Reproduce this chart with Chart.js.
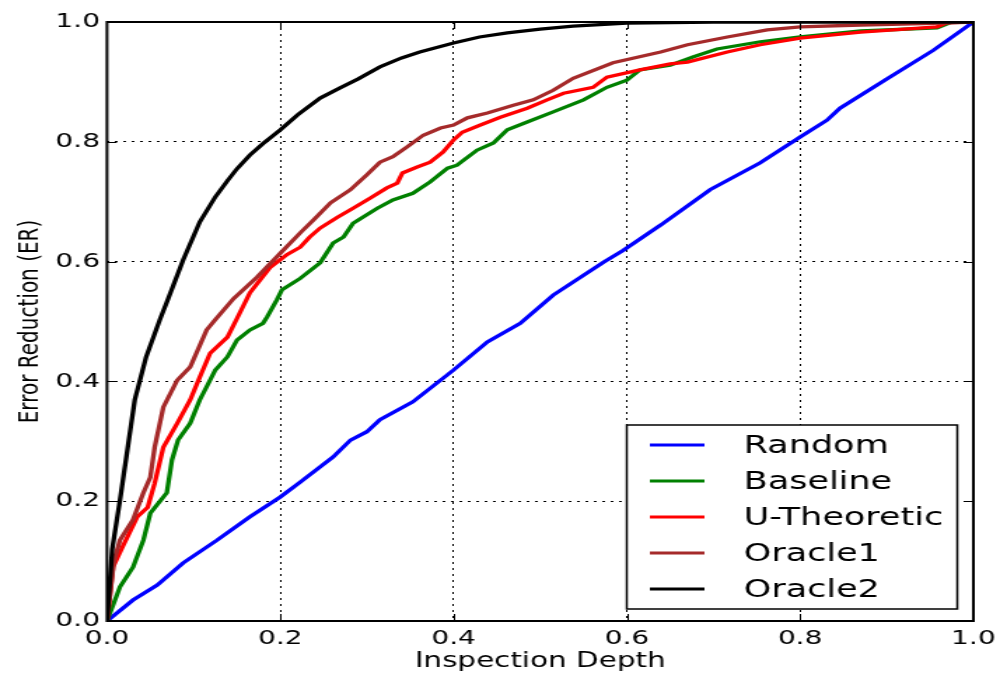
<!DOCTYPE html>
<html><head><meta charset="utf-8">
<script src="https://cdn.jsdelivr.net/npm/chart.js@4/dist/chart.umd.min.js"></script>
<style>
html,body{margin:0;padding:0;background:#fff;overflow:hidden;width:1000px;height:673px}
#wrap{width:714px;height:673px;transform:scaleX(1.40056);transform-origin:0 0}
canvas{display:block}
</style></head><body>
<div id="wrap"><canvas id="c" width="714" height="673"></canvas></div>
<script>
// ---- data ----
const seriesNames = ['Random', 'Baseline', 'U-Theoretic', 'Oracle1', 'Oracle2'];
const seriesColors = ['#0000ff', '#008000', '#ff0000', '#a52a2a', '#000000'];
const tickValues = [0, 0.2, 0.4, 0.6, 0.8, 1.0];

const randomX = [0, 0.030, 0.058, 0.088, 0.127, 0.165, 0.200, 0.223, 0.261, 0.281, 0.300, 0.315, 0.353, 0.400, 0.439, 0.477, 0.515, 0.573, 0.596, 0.639, 0.696, 0.754, 0.800, 0.831, 0.846, 0.900, 0.954, 1.0];
const randomY = [0, 0.035, 0.060, 0.097, 0.135, 0.174, 0.207, 0.232, 0.274, 0.302, 0.316, 0.336, 0.366, 0.419, 0.466, 0.497, 0.544, 0.599, 0.619, 0.661, 0.720, 0.765, 0.808, 0.836, 0.856, 0.905, 0.953, 1.0];

const baselineX = [0, 0.015, 0.030, 0.042, 0.050, 0.069, 0.075, 0.082, 0.096, 0.107, 0.115, 0.125, 0.139, 0.150, 0.165, 0.180, 0.185, 0.196, 0.202, 0.223, 0.246, 0.261, 0.273, 0.284, 0.312, 0.330, 0.353, 0.373, 0.393, 0.404, 0.427, 0.446, 0.462, 0.485, 0.515, 0.550, 0.577, 0.600, 0.615, 0.650, 0.677, 0.704, 0.754, 0.800, 0.870, 0.958, 0.975, 1.0];
const baselineY = [0, 0.057, 0.090, 0.135, 0.180, 0.214, 0.269, 0.302, 0.330, 0.369, 0.391, 0.419, 0.441, 0.469, 0.486, 0.497, 0.508, 0.536, 0.553, 0.572, 0.598, 0.631, 0.641, 0.664, 0.689, 0.703, 0.714, 0.733, 0.756, 0.761, 0.786, 0.798, 0.820, 0.833, 0.850, 0.870, 0.891, 0.903, 0.920, 0.928, 0.942, 0.955, 0.967, 0.975, 0.985, 0.990, 1.0, 1.0];

const uTheoreticX = [0, 0.007, 0.018, 0.035, 0.047, 0.055, 0.065, 0.081, 0.096, 0.107, 0.119, 0.139, 0.150, 0.165, 0.188, 0.208, 0.223, 0.234, 0.246, 0.266, 0.284, 0.304, 0.323, 0.335, 0.341, 0.358, 0.373, 0.388, 0.400, 0.410, 0.431, 0.454, 0.485, 0.508, 0.527, 0.561, 0.577, 0.615, 0.650, 0.670, 0.716, 0.754, 0.800, 0.870, 0.958, 0.970, 1.0];
const uTheoreticY = [0, 0.090, 0.124, 0.174, 0.190, 0.230, 0.290, 0.330, 0.369, 0.407, 0.447, 0.474, 0.505, 0.548, 0.590, 0.612, 0.624, 0.641, 0.656, 0.674, 0.689, 0.706, 0.723, 0.731, 0.748, 0.758, 0.766, 0.783, 0.803, 0.816, 0.828, 0.841, 0.856, 0.870, 0.881, 0.891, 0.908, 0.920, 0.930, 0.933, 0.950, 0.962, 0.973, 0.983, 0.992, 0.999, 1.0];

const oracle1X = [0, 0.008, 0.015, 0.030, 0.042, 0.050, 0.055, 0.065, 0.081, 0.096, 0.115, 0.125, 0.146, 0.173, 0.200, 0.223, 0.238, 0.258, 0.281, 0.300, 0.315, 0.330, 0.346, 0.365, 0.385, 0.400, 0.416, 0.439, 0.469, 0.492, 0.515, 0.538, 0.584, 0.639, 0.670, 0.716, 0.762, 0.800, 0.870, 0.965, 1.0];
const oracle1Y = [0, 0.100, 0.135, 0.169, 0.214, 0.240, 0.290, 0.357, 0.402, 0.424, 0.486, 0.503, 0.538, 0.574, 0.614, 0.648, 0.669, 0.698, 0.720, 0.745, 0.766, 0.775, 0.791, 0.811, 0.823, 0.828, 0.840, 0.848, 0.861, 0.870, 0.886, 0.906, 0.932, 0.950, 0.962, 0.975, 0.987, 0.992, 0.995, 0.998, 1.0];

const oracle2X = [0, 0.006, 0.015, 0.032, 0.045, 0.061, 0.070, 0.088, 0.107, 0.125, 0.139, 0.150, 0.165, 0.180, 0.200, 0.220, 0.246, 0.269, 0.290, 0.315, 0.340, 0.361, 0.400, 0.430, 0.462, 0.500, 0.538, 0.600, 0.700, 0.800, 1.0];
const oracle2Y = [0, 0.120, 0.202, 0.369, 0.440, 0.503, 0.536, 0.603, 0.666, 0.708, 0.735, 0.755, 0.778, 0.797, 0.820, 0.845, 0.873, 0.890, 0.905, 0.925, 0.940, 0.950, 0.965, 0.975, 0.982, 0.988, 0.993, 0.998, 1.0, 1.0, 1.0];

const allX = [randomX, baselineX, uTheoreticX, oracle1X, oracle2X];
const allY = [randomY, baselineY, uTheoreticY, oracle1Y, oracle2Y];

const xTitle = 'Inspection Depth';
const yTitle = 'Error Reduction (ER)';

Chart.defaults.font.family = "'DejaVu Sans', 'Bitstream Vera Sans', sans-serif";
Chart.defaults.color = '#000';

const datasets = seriesNames.map((name, i) => ({
  label: name,
  data: allX[i].map((x, k) => ({x: x, y: allY[i][k]})),
  borderColor: seriesColors[i],
  backgroundColor: seriesColors[i],
  borderWidth: 3.3,
  pointRadius: 0,
  tension: 0,
  fill: false,
  order: seriesNames.length - i
}));

const framePlugin = {
  id: 'frame',
  afterDatasetsDraw(chart) {
    const {ctx, chartArea: a, scales} = chart;
    ctx.save();
    ctx.strokeStyle = '#000';
    ctx.lineWidth = 1;
    const tl = 7;
    tickValues.forEach(v => {
      const px = Math.round(scales.x.getPixelForValue(v)) + 0.5;
      ctx.beginPath();
      ctx.moveTo(px, a.bottom); ctx.lineTo(px, a.bottom - tl);
      ctx.moveTo(px, a.top); ctx.lineTo(px, a.top + tl);
      ctx.stroke();
      const py = Math.round(scales.y.getPixelForValue(v)) + 0.5;
      ctx.beginPath();
      ctx.moveTo(a.left, py); ctx.lineTo(a.left + tl, py);
      ctx.moveTo(a.right, py); ctx.lineTo(a.right - tl, py);
      ctx.stroke();
    });
    ctx.lineWidth = 2;
    ctx.strokeRect(a.left, a.top, a.right - a.left, a.bottom - a.top);
    ctx.restore();
  },
  afterDraw(chart) {
    const {ctx, chartArea: a} = chart;
    const w = 236, h = 184;
    const bx = a.right - 11.5 - w, by = a.bottom - 12 - h;
    ctx.save();
    ctx.fillStyle = '#fff';
    ctx.fillRect(bx, by, w, h);
    ctx.strokeStyle = '#000';
    ctx.lineWidth = 1.5;
    ctx.strokeRect(bx, by, w, h);
    ctx.font = "25px 'DejaVu Sans', sans-serif";
    ctx.textBaseline = 'middle';
    ctx.textAlign = 'left';
    chart.data.datasets.forEach((ds, i) => {
      const y = by + 20 + i * 36;
      ctx.strokeStyle = ds.borderColor;
      ctx.lineWidth = 3;
      ctx.beginPath();
      ctx.moveTo(bx + 16.5, y); ctx.lineTo(bx + 55.5, y);
      ctx.stroke();
      ctx.fillStyle = '#000';
      ctx.fillText(ds.label, bx + 83.5, y + 1);
    });
    ctx.restore();
  }
};

new Chart(document.getElementById('c'), {
  type: 'line',
  data: {datasets},
  options: {
    responsive: false,
    animation: false,
    devicePixelRatio: 1,
    layout: {padding: {left: 0, right: 19, top: 22, bottom: 0}},
    plugins: {legend: {display: false}, tooltip: {enabled: false}},
    scales: {
      x: {
        type: 'linear', min: 0, max: 1,
        afterFit: s => { s.height = 52; s.paddingLeft = 0; s.paddingRight = 0; },
        afterBuildTicks: s => { s.ticks = tickValues.map(v => ({value: v})); },
        ticks: {font: {size: 20}, color: '#000', padding: 6, maxRotation: 0, autoSkip: false,
                callback: v => Number(v).toFixed(1)},
        grid: {color: '#000', lineWidth: 1, drawTicks: false},
        border: {display: false, dash: [2, 4]},
        title: {display: true, text: xTitle, font: {size: 21}, color: '#000', padding: {top: 0, bottom: -1}}
      },
      y: {
        type: 'linear', min: 0, max: 1,
        afterFit: s => { s.width = 76.4; s.paddingTop = 0; s.paddingBottom = 0; },
        afterBuildTicks: s => { s.ticks = tickValues.map(v => ({value: v})); },
        ticks: {font: {size: 20}, color: '#000', padding: 5, autoSkip: false,
                callback: v => Number(v).toFixed(1)},
        grid: {color: '#000', lineWidth: 1, drawTicks: false},
        border: {display: false, dash: [2, 4]},
        title: {display: true, text: yTitle, font: {size: 20}, color: '#000', padding: {top: 10, bottom: 0}}
      }
    }
  },
  plugins: [framePlugin]
});
</script>
</body></html>
